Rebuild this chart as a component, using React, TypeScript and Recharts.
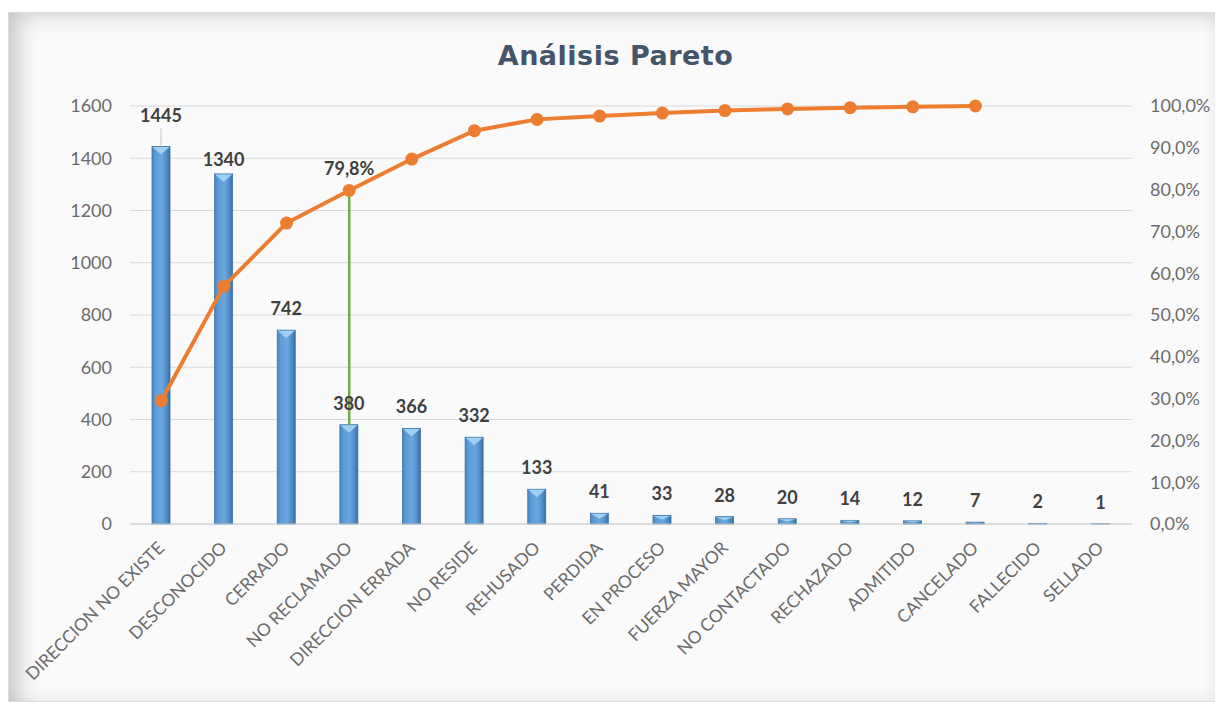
import React from 'react';
import {
  ComposedChart,
  Bar,
  Line,
  XAxis,
  YAxis,
  CartesianGrid,
  LabelList,
  ReferenceLine,
} from 'recharts';

const categories = [
  'DIRECCION NO EXISTE',
  'DESCONOCIDO',
  'CERRADO',
  'NO RECLAMADO',
  'DIRECCION ERRADA',
  'NO RESIDE',
  'REHUSADO',
  'PERDIDA',
  'EN PROCESO',
  'FUERZA MAYOR',
  'NO CONTACTADO',
  'RECHAZADO',
  'ADMITIDO',
  'CANCELADO',
  'FALLECIDO',
  'SELLADO',
];
const counts = [1445, 1340, 742, 380, 366, 332, 133, 41, 33, 28, 20, 14, 12, 7, 2, 1];
const cumulativePct: (number | null)[] = [
  29.5, 56.9, 72.0, 79.8, 87.3, 94.1, 96.8, 97.6, 98.3, 98.9, 99.3, 99.6, 99.8, 100.0, null, null,
];
const leftTicks = [0, 200, 400, 600, 800, 1000, 1200, 1400, 1600];
const rightTicks = [0, 10, 20, 30, 40, 50, 60, 70, 80, 90, 100];
const leftMax = 1600;
const rightMax = 100;
const paretoIndex = 3;
const paretoLabel = '79,8%';
const title = 'Análisis Pareto';

const data = categories.map((name, i) => ({
  name,
  count: counts[i],
  cum: cumulativePct[i],
}));

const FONT = 'Lato, "Open Sans", sans-serif';

const BarShape = (props: any) => {
  const { x, y, width, height } = props;
  if (!height || height <= 0) return null;
  const tri = Math.min(width * 0.45, height * 0.5);
  const cx = x + width / 2;
  return (
    <g>
      <defs>
        <linearGradient id="barGrad" x1="0" y1="0" x2="1" y2="0">
          <stop offset="0" stopColor="#4A83BD" />
          <stop offset="0.18" stopColor="#5C9BD6" />
          <stop offset="0.55" stopColor="#6AA7E0" />
          <stop offset="0.82" stopColor="#4F8CC8" />
          <stop offset="1" stopColor="#3A6C9C" />
        </linearGradient>
      </defs>
      <rect x={x} y={y} width={width} height={height} fill="url(#barGrad)" stroke="#3E73A6" strokeWidth={0.8} />
      <polygon
        points={`${x + 0.5},${y + 0.5} ${x + width - 0.5},${y + 0.5} ${cx},${y + tri}`}
        fill="#9FD0F5"
      />
    </g>
  );
};

const BarValueLabel = (props: any) => {
  const { x, y, width, value, index } = props;
  const cx = x + width / 2;
  let lift = 15;
  if (index === 0) lift = 24;
  if (index === 1) lift = 8;
  return (
    <g>
      {index === 0 && (
        <line x1={cx} x2={cx} y1={y - 1} y2={y - lift + 6} stroke="#c8c8c8" strokeWidth={1} />
      )}
      <text
        x={cx}
        y={y - lift}
        textAnchor="middle"
        fontFamily={FONT}
        fontWeight={700}
        fontSize={18}
        fill="#404040"
      >
        {value}
      </text>
    </g>
  );
};

const LinePctLabel = (props: any) => {
  const { x, y, index } = props;
  if (index !== paretoIndex) return null;
  return (
    <text
      x={x}
      y={y - 15}
      textAnchor="middle"
      fontFamily={FONT}
      fontWeight={700}
      fontSize={18}
      fill="#404040"
    >
      {paretoLabel}
    </text>
  );
};

const CategoryTick = (props: any) => {
  const { x, y, payload } = props;
  const ax = x + 4;
  const ay = y + 25;
  return (
    <text
      x={ax}
      y={ay}
      textAnchor="end"
      transform={`rotate(-45 ${ax} ${ay})`}
      fontFamily={FONT}
      fontSize={17.5}
      fill="#6b6b6b"
    >
      {payload.value}
    </text>
  );
};

export default function App() {
  const greenBottom = (counts[paretoIndex] / leftMax) * rightMax;
  return (
    <div
      style={{
        position: 'relative',
        width: 1207,
        height: 688,
        marginTop: 4,
        background: '#fafafa',
        border: '1px solid #dcdcdc',
        boxShadow:
          'inset 22px 14px 22px -14px rgba(0,0,0,0.22), inset -10px -10px 18px -12px rgba(0,0,0,0.10)',
      }}
    >
      <div
        style={{
          position: 'absolute',
          left: 0,
          top: 27,
          width: 1213,
          textAlign: 'center',
          fontFamily: '"Comic Sans MS", "DejaVu Sans", sans-serif',
          fontWeight: 700,
          fontSize: 27,
          color: '#44546A',
          letterSpacing: 0.5,
        }}
      >
        {title}
      </div>
      <ComposedChart
        width={1207}
        height={688}
        data={data}
        margin={{ top: 93, right: 0, bottom: 0, left: 0 }}
        style={{ position: 'absolute', left: 0, top: 0 }}
      >
        <CartesianGrid yAxisId="left" vertical={false} stroke="#d9d9d9" strokeWidth={1} />
        <XAxis
          dataKey="name"
          interval={0}
          height={177}
          tickLine={false}
          tickSize={0}
          tickMargin={0}
          axisLine={{ stroke: '#d0d0d0' }}
          tick={<CategoryTick />}
        />
        <YAxis
          yAxisId="left"
          orientation="left"
          width={121}
          domain={[0, leftMax]}
          ticks={leftTicks}
          axisLine={false}
          tickLine={false}
          tickSize={0}
          tickMargin={18}
          tick={{ fontFamily: FONT, fontSize: 18, fill: '#6b6b6b' }}
        />
        <YAxis
          yAxisId="right"
          orientation="right"
          width={84}
          domain={[0, rightMax]}
          ticks={rightTicks}
          axisLine={false}
          tickLine={false}
          tickSize={0}
          tickMargin={18}
          tickFormatter={(v: number) => `${v},0%`}
          tick={{ fontFamily: FONT, fontSize: 18, fill: '#6b6b6b' }}
        />
        <Bar yAxisId="left" dataKey="count" barSize={18} shape={<BarShape />} isAnimationActive={false}>
          <LabelList dataKey="count" content={<BarValueLabel />} />
        </Bar>
        <ReferenceLine
          yAxisId="right"
          segment={[
            { x: categories[paretoIndex], y: greenBottom },
            { x: categories[paretoIndex], y: cumulativePct[paretoIndex] as number },
          ]}
          stroke="#70AD47"
          strokeWidth={2.5}
        />
        <Line
          yAxisId="right"
          type="linear"
          dataKey="cum"
          stroke="#ED7D31"
          strokeWidth={4}
          dot={{ r: 6.5, fill: '#ED7D31', stroke: '#ED7D31', strokeWidth: 0 }}
          activeDot={false}
          connectNulls={false}
          isAnimationActive={false}
        >
          <LabelList dataKey="cum" content={<LinePctLabel />} />
        </Line>
      </ComposedChart>
    </div>
  );
}
